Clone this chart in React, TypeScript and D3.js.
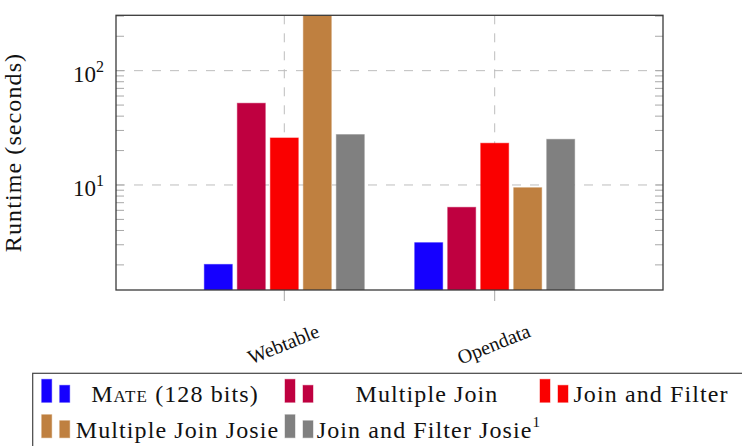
import React, { useEffect, useRef } from "react";
import * as d3 from "d3";

// categories and series (runtime in seconds)
const categories = ["Webtable", "Opendata"];
const seriesNames = ["Mate (128 bits)", "Multiple Join", "Join and Filter", "Multiple Join Josie", "Join and Filter Josie"];
const mateValues = [2.02, 3.13];
const multipleJoinValues = [51.9, 6.38];
const joinFilterValues = [25.8, 23.2];
const multipleJoinJosieValues = [320, 9.47];
const joinFilterJosieValues = [27.6, 25.1];
const yTickValues = [10, 100];
const yTickExponents = ["1", "2"];
const yDomain = [1.206, 305];

const colors = ["#1500ff", "#bf0040", "#fa0000", "#bf8040", "#808080"];
const FONT = "'Liberation Serif', 'Times New Roman', serif";

export default function App() {
  const ref = useRef<SVGSVGElement>(null);

  useEffect(() => {
    const svg = d3.select(ref.current);
    svg.selectAll("*").remove();

    const left = 116, right = 663, top = 15.3, bottom = 290;
    const allSeries = [mateValues, multipleJoinValues, joinFilterValues, multipleJoinJosieValues, joinFilterJosieValues];

    const x = d3.scalePoint<string>().domain(categories).range([left, right]).padding(0.8);
    const y = d3.scaleLog().domain(yDomain).range([bottom, top]);

    svg.append("defs").append("clipPath").attr("id", "plotclip")
      .append("rect").attr("x", left).attr("y", top).attr("width", right - left).attr("height", bottom - top);

    // grid
    const grid = svg.append("g").attr("stroke", "#bdbdbd").attr("stroke-width", 1).attr("stroke-dasharray", "9,9");
    grid.selectAll(".hg").data(yTickValues).join("line")
      .attr("x1", left).attr("x2", right)
      .attr("y1", (d) => y(d)).attr("y2", (d) => y(d));
    grid.selectAll(".vg").data(categories).join("line")
      .attr("x1", (d) => x(d)!).attr("x2", (d) => x(d)!)
      .attr("y1", top).attr("y2", bottom);

    // minor + major ticks, inside on both sides
    const minor: number[] = [];
    [1, 10, 100].forEach((dec) => {
      for (let k = 1; k < 10; k++) {
        const v = dec * k;
        if (v >= yDomain[0] && v <= yDomain[1]) minor.push(v);
      }
    });
    const ticks = svg.append("g").attr("stroke", "#a8a8a8").attr("stroke-width", 1);
    ticks.selectAll(".lt").data(minor).join("line")
      .attr("x1", left).attr("x2", left + 8)
      .attr("y1", (d) => y(d)).attr("y2", (d) => y(d));
    ticks.selectAll(".rt").data(minor).join("line")
      .attr("x1", right - 8).attr("x2", right)
      .attr("y1", (d) => y(d)).attr("y2", (d) => y(d));
    ticks.selectAll(".xt").data(categories).join("line")
      .attr("x1", (d) => x(d)!).attr("x2", (d) => x(d)!)
      .attr("y1", bottom).attr("y2", bottom + 11);

    // bars
    const barW = 28, step = 33;
    const bars = svg.append("g").attr("clip-path", "url(#plotclip)");
    allSeries.forEach((vals, si) => {
      bars.selectAll(".b" + si).data(vals).join("rect")
        .attr("x", (d, i) => x(categories[i])! + (si - 2) * step - barW / 2)
        .attr("y", (d) => y(d))
        .attr("width", barW)
        .attr("height", (d) => bottom - y(d))
        .attr("fill", colors[si])
        .attr("stroke", colors[si])
        .attr("stroke-opacity", 0.45)
        .attr("stroke-width", 1);
    });

    // frame
    svg.append("rect")
      .attr("x", left).attr("y", top).attr("width", right - left).attr("height", bottom - top)
      .attr("fill", "none").attr("stroke", "#3a3a3a").attr("stroke-width", 1.3);

    // y tick labels
    yTickValues.forEach((v, i) => {
      const t = svg.append("text")
        .attr("x", 104).attr("y", y(v) + 11.5)
        .attr("text-anchor", "end")
        .attr("font-family", FONT).attr("font-size", 23).attr("fill", "#111");
      t.append("tspan").text("10");
      t.append("tspan").attr("font-size", 16).attr("dy", -10).text(yTickExponents[i]);
    });

    // y label
    svg.append("text")
      .attr("transform", "translate(21,152.5) rotate(-90)")
      .attr("text-anchor", "middle")
      .attr("font-family", FONT).attr("font-size", 24).attr("letter-spacing", 1.1).attr("fill", "#111")
      .text("Runtime (seconds)");

    // x labels
    categories.forEach((c) => {
      const cx = x(c)! - 1, cy = 344;
      svg.append("text")
        .attr("transform", `translate(${cx},${cy}) rotate(-22)`)
        .attr("text-anchor", "middle").attr("dy", 7)
        .attr("font-family", FONT).attr("font-size", 20).attr("fill", "#111")
        .text(c);
    });

    // legend
    const lg = svg.append("g");
    lg.append("rect").attr("x", 32.7).attr("y", 373.3).attr("width", 760).attr("height", 90)
      .attr("fill", "white").attr("stroke", "#444").attr("stroke-width", 1.2);
    const markerX = [41.7, 285, 540, 41.7, 285];
    const textX = [175, 427, 651, 177.5, 429];
    const baseY = [402.3, 402.3, 402.3, 437.7, 437.7];
    seriesNames.forEach((name, si) => {
      const mx = markerX[si], by = baseY[si];
      lg.append("rect").attr("x", mx).attr("y", by - 23).attr("width", 10).attr("height", 23)
        .attr("fill", colors[si]).attr("stroke", colors[si]).attr("stroke-opacity", 0.45);
      lg.append("rect").attr("x", mx + 18).attr("y", by - 17).attr("width", 10).attr("height", 17)
        .attr("fill", colors[si]).attr("stroke", colors[si]).attr("stroke-opacity", 0.45);
      const t = lg.append("text")
        .attr("x", textX[si]).attr("y", by)
        .attr("text-anchor", "middle")
        .attr("font-family", FONT).attr("font-size", 24).attr("letter-spacing", 1.1).attr("fill", "#111");
      if (si === 0) {
        t.append("tspan").style("font-variant", "small-caps").text("Mate");
        t.append("tspan").text(" (128 bits)");
      } else {
        t.append("tspan").text(name);
        if (si === 4) t.append("tspan").attr("font-size", 15).attr("dy", -11).text("1");
      }
    });
  }, []);

  return (
    <svg ref={ref} width={742} height={446}
      style={{ position: "absolute", left: 0, top: 0, background: "white" }} />
  );
}
